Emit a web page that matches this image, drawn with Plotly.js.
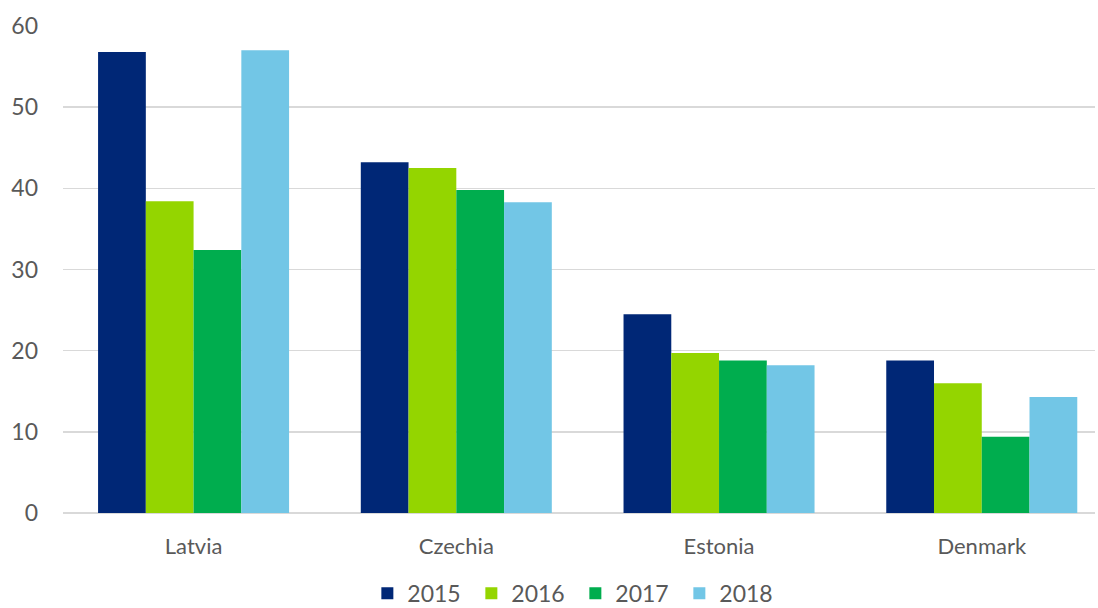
<!DOCTYPE html>
<html>
<head>
<meta charset="utf-8">
<script src="https://cdn.plot.ly/plotly-3.0.1.min.js"></script>
<style>html,body{margin:0;padding:0;background:#fff;}#chart{width:1098px;height:608px;}</style>
</head>
<body>
<div id="chart"></div>
<script>
const countries = ["Latvia", "Czechia", "Estonia", "Denmark"];
const years = ["2015", "2016", "2017", "2018"];
const v2015 = [56.8, 43.2, 24.5, 18.8];
const v2016 = [38.4, 42.5, 19.7, 16.0];
const v2017 = [32.4, 39.8, 18.8, 9.4];
const v2018 = [57.0, 38.3, 18.2, 14.3];
const colors = ["#002776", "#94d500", "#00ad4e", "#72c6e6"];
const series = [v2015, v2016, v2017, v2018];
const positions = countries.map((c, i) => i);

const traces = series.map((vals, i) => ({
  type: "bar",
  name: years[i],
  x: positions,
  y: vals,
  marker: {color: colors[i], line: {width: 0}},
  hoverinfo: "none"
}));

const layout = {
  width: 1098, height: 608,
  margin: {l: 63, r: 3, t: 26, b: 95},
  paper_bgcolor: "#fff", plot_bgcolor: "#fff",
  barmode: "group", bargap: 0.273, bargroupgap: 0,
  font: {family: "Lato, 'Open Sans', sans-serif", color: "#595959"},
  xaxis: {
    type: "linear",
    range: [-0.497, 3.431],
    tickvals: positions, ticktext: countries,
    showgrid: false, zeroline: false, showline: false, ticks: "",
    tickfont: {size: 22, color: "#595959"},
    ticklabelstandoff: 18
  },
  yaxis: {
    range: [0, 60], dtick: 10, tick0: 0,
    showgrid: true, gridcolor: "#d9d9d9", gridwidth: 1.5,
    zeroline: true, zerolinecolor: "#d9d9d9", zerolinewidth: 1.5,
    showline: false, ticks: "",
    tickfont: {size: 23, color: "#595959"},
    ticklabelstandoff: 24
  },
  legend: {
    orientation: "h", x: 0.524, xanchor: "center", xref: "container",
    y: 0.024, yanchor: "middle", yref: "container",
    font: {size: 23, color: "#595959"},
    itemwidth: 30, traceorder: "normal",
    entrywidth: 59, entrywidthmode: "pixels"
  },
  showlegend: true
};

Plotly.newPlot("chart", traces, layout, {displayModeBar: false, staticPlot: true});
</script>
</body>
</html>
